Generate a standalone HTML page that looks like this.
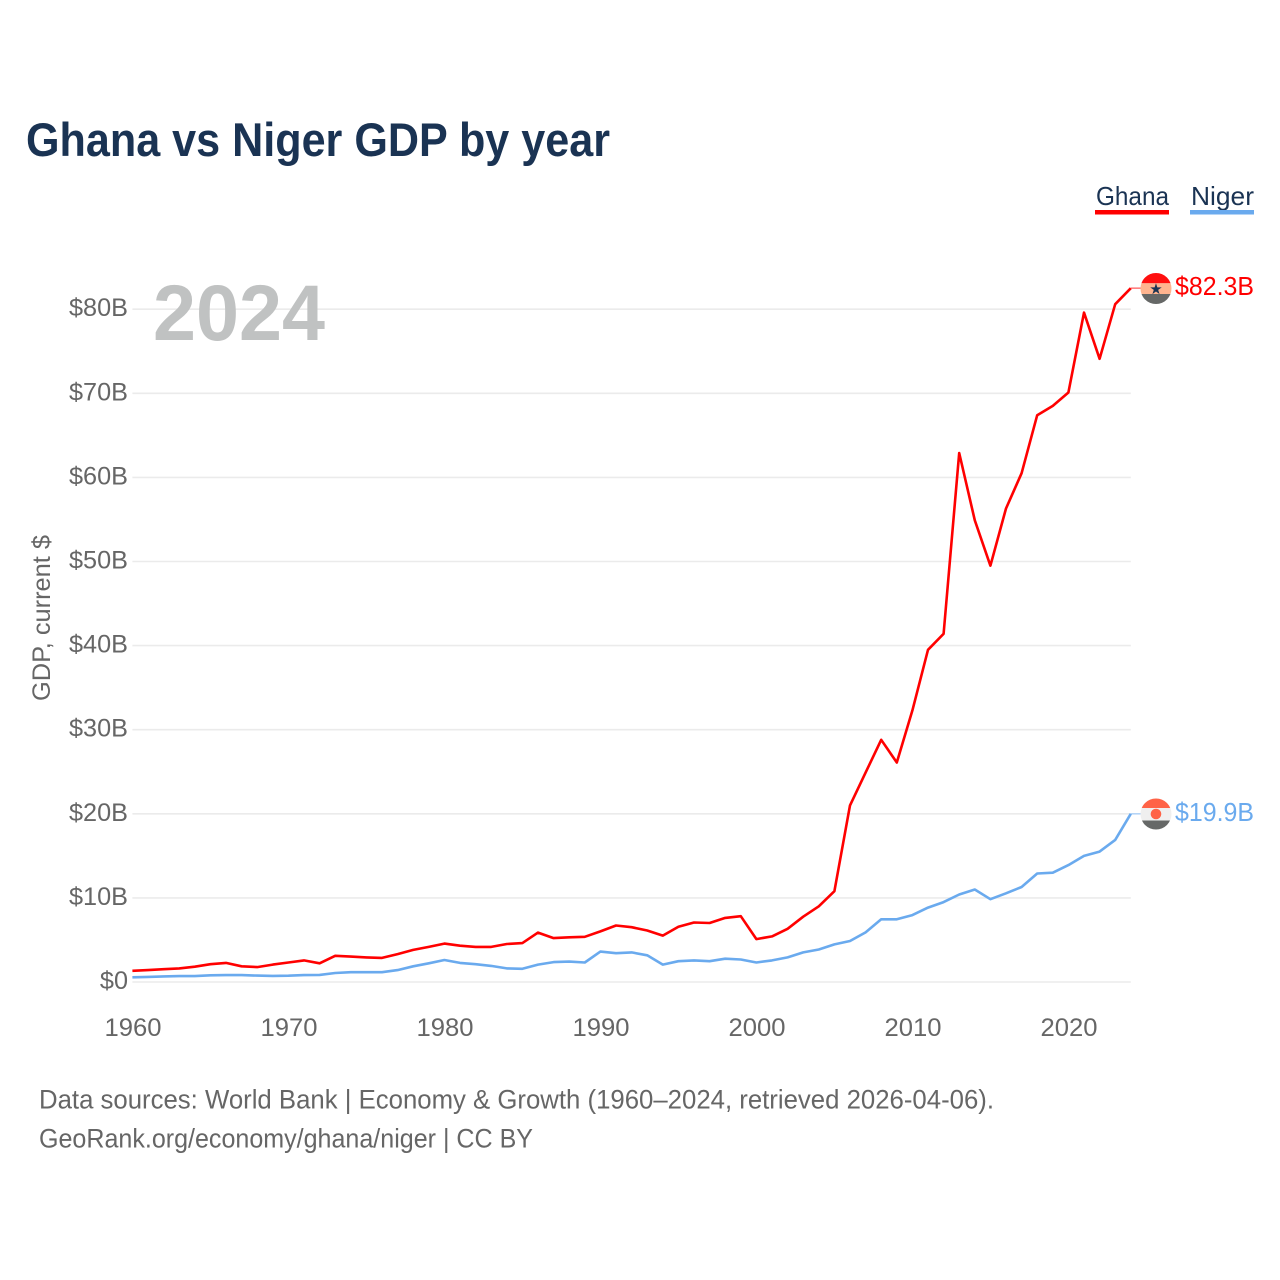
<!DOCTYPE html>
<html lang="en">
<head>
<meta charset="utf-8">
<title>Ghana vs Niger GDP by year</title>
<style>
html,body{margin:0;padding:0;background:#fff;}
svg{display:block;font-family:"Liberation Sans",sans-serif;}
</style>
</head>
<body>
<svg id="chart" width="1280" height="1280" viewBox="0 0 1280 1280" xmlns="http://www.w3.org/2000/svg">
  <text x="26" y="156" font-size="47" font-weight="700" fill="#1a3353" textLength="584" lengthAdjust="spacingAndGlyphs">Ghana vs Niger GDP by year</text>
  <text x="1096" y="205" font-size="26" fill="#1a3353" textLength="73" lengthAdjust="spacingAndGlyphs">Ghana</text>
  <rect x="1095" y="210" width="74" height="4.5" fill="#ff0000"></rect>
  <text x="1191" y="205" font-size="26" fill="#1a3353" textLength="63" lengthAdjust="spacingAndGlyphs">Niger</text>
  <rect x="1190" y="210" width="64" height="4.5" fill="#6aaaee"></rect>
  <g id="grid"></g>
  <text x="153" y="340" font-size="79" font-weight="700" fill="#c0c2c2" textLength="172" lengthAdjust="spacingAndGlyphs">2024</text>
  <g id="yticks"></g>
  <g id="xticks"></g>
  <text transform="translate(50,618) rotate(-90)" text-anchor="middle" font-size="25" fill="#666" textLength="166" lengthAdjust="spacingAndGlyphs">GDP, current $</text>
  <g id="series"></g>
  <g id="flag-ghana">
    <clipPath id="clip-ghana"><circle cx="1156" cy="288.5" r="15.5"></circle></clipPath>
    <g clip-path="url(#clip-ghana)">
      <rect x="1140" y="273" width="32" height="10.3" fill="#ff0f0f"></rect>
      <rect x="1140" y="283.3" width="32" height="10.7" fill="#ffb48f"></rect>
      <rect x="1140" y="294" width="32" height="10.5" fill="#666867"></rect>
    </g>
    <text x="1156" y="294" text-anchor="middle" font-size="15" fill="#1a3353" style="font-family:'DejaVu Sans',sans-serif">★</text>
  </g>
  <g id="flag-niger">
    <clipPath id="clip-niger"><circle cx="1156" cy="814" r="15.5"></circle></clipPath>
    <g clip-path="url(#clip-niger)">
      <rect x="1140" y="798" width="32" height="10" fill="#ff6347"></rect>
      <rect x="1140" y="808" width="32" height="12.5" fill="#efefef"></rect>
      <rect x="1140" y="820.5" width="32" height="10" fill="#666867"></rect>
    </g>
    <circle cx="1156" cy="814" r="5.3" fill="#ff6347"></circle>
  </g>
  <text x="1175" y="295" font-size="26" fill="#ff0000" textLength="79" lengthAdjust="spacingAndGlyphs">$82.3B</text>
  <text x="1175" y="821" font-size="26" fill="#6aaaee" textLength="79" lengthAdjust="spacingAndGlyphs">$19.9B</text>
  <text x="39" y="1108.5" font-size="26.5" fill="#666" textLength="955" lengthAdjust="spacingAndGlyphs">Data sources: World Bank | Economy &amp; Growth (1960–2024, retrieved 2026-04-06).</text>
  <text x="39" y="1147.5" font-size="26.5" fill="#666" textLength="494" lengthAdjust="spacingAndGlyphs">GeoRank.org/economy/ghana/niger | CC BY</text>
</svg>
<script>
const years = [1960,1961,1962,1963,1964,1965,1966,1967,1968,1969,1970,1971,1972,1973,1974,1975,1976,1977,1978,1979,1980,1981,1982,1983,1984,1985,1986,1987,1988,1989,1990,1991,1992,1993,1994,1995,1996,1997,1998,1999,2000,2001,2002,2003,2004,2005,2006,2007,2008,2009,2010,2011,2012,2013,2014,2015,2016,2017,2018,2019,2020,2021,2022,2023,2024];
const ghanaGdp = [1.33,1.42,1.52,1.62,1.82,2.12,2.27,1.87,1.77,2.07,2.32,2.57,2.22,3.12,3.02,2.92,2.87,3.32,3.82,4.17,4.57,4.32,4.17,4.17,4.52,4.62,5.87,5.22,5.32,5.37,6.02,6.72,6.52,6.12,5.52,6.57,7.07,7.02,7.62,7.82,5.1,5.42,6.32,7.77,9.0,10.8,21.0,24.9,28.8,26.1,32.3,39.5,41.4,62.9,54.9,49.5,56.3,60.5,67.4,68.5,70.1,79.6,74.1,80.6,82.5];
const nigerGdp = [0.56,0.61,0.66,0.7,0.7,0.8,0.82,0.82,0.76,0.72,0.75,0.82,0.85,1.07,1.17,1.17,1.17,1.42,1.87,2.22,2.62,2.27,2.12,1.92,1.62,1.57,2.07,2.37,2.42,2.32,3.62,3.42,3.52,3.17,2.07,2.47,2.57,2.47,2.77,2.67,2.32,2.57,2.92,3.52,3.87,4.47,4.87,5.9,7.45,7.45,7.95,8.85,9.5,10.4,11.0,9.85,10.55,11.3,12.9,13.0,13.9,15.0,15.5,16.9,20.0];
const yTickValues = [0,10,20,30,40,50,60,70,80];
const yTickLabels = ["$0","$10B","$20B","$30B","$40B","$50B","$60B","$70B","$80B"];
const xTickValues = [1960,1970,1980,1990,2000,2010,2020];

const NS = "http://www.w3.org/2000/svg";
function xScale(year){ return 132.4 + (year - 1960) * 15.6; }
function yScale(v){ return 982 - v * 8.41; }
function make(tag, parent){
  const el = document.createElementNS(NS, tag);
  parent.appendChild(el);
  return el;
}
const gridG = document.getElementById("grid");
const yG = document.getElementById("yticks");
const xG = document.getElementById("xticks");
const seriesG = document.getElementById("series");

yTickValues.forEach(function(v, i){
  const ln = make("line", gridG);
  
  
  ln.setAttribute("x1", xScale(1960));
  ln.setAttribute("x2", xScale(2024));
  ln.setAttribute("y1", yScale(v));
  ln.setAttribute("y2", yScale(v));
  ln.setAttribute("stroke", "#ebebeb");
  ln.setAttribute("stroke-width", 1.6);
  const t = make("text", yG);
  
  
  t.setAttribute("x", 128);
  t.setAttribute("y", yScale(v) + 7);
  t.setAttribute("text-anchor", "end");
  t.setAttribute("font-size", 25);
  t.setAttribute("fill", "#666");
  t.textContent = yTickLabels[i];
  t.setAttribute("lengthAdjust", "spacingAndGlyphs");
  t.setAttribute("textLength", t.getComputedTextLength() * 1.01);
});
xTickValues.forEach(function(y){
  const t = make("text", xG);
  
  
  t.setAttribute("x", xScale(y) + 0.6);
  t.setAttribute("y", 1036);
  t.setAttribute("text-anchor", "middle");
  t.setAttribute("font-size", 25);
  t.setAttribute("fill", "#666");
  t.setAttribute("lengthAdjust", "spacingAndGlyphs");
  t.setAttribute("textLength", 57);
  t.textContent = String(y);
});
function drawSeries(values, color){
  const pts = values.map(function(v, i){ return xScale(years[i]).toFixed(1) + "," + yScale(v).toFixed(1); }).join(" ");
  const p = make("polyline", seriesG);
  
  
  p.setAttribute("points", pts);
  p.setAttribute("fill", "none");
  p.setAttribute("stroke", color);
  p.setAttribute("stroke-width", 2.6);
  p.setAttribute("stroke-linejoin", "round");
  const last = values[values.length - 1];
  const s = make("line", seriesG);
  
  
  s.setAttribute("x1", xScale(years[years.length - 1]));
  s.setAttribute("x2", 1141);
  s.setAttribute("y1", yScale(last));
  s.setAttribute("y2", yScale(last));
  s.setAttribute("stroke", color);
  s.setAttribute("stroke-opacity", 0.5);
  s.setAttribute("stroke-width", 1.6);
}
drawSeries(nigerGdp, "#6aaaee");
drawSeries(ghanaGdp, "#ff0000");
</script>
</body>
</html>
